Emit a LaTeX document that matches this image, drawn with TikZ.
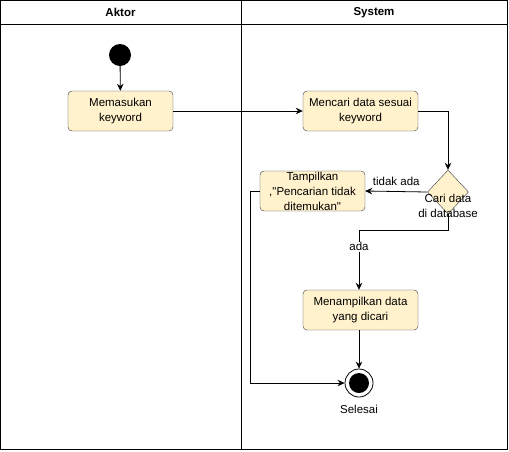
\documentclass[tikz,border=0pt]{standalone}
\usepackage{fontspec}
\setmainfont{Liberation Sans}
\usetikzlibrary{shapes.geometric, arrows.meta}
\definecolor{notefill}{HTML}{FFF2CC}
\definecolor{noteline}{HTML}{36393D}
\begin{document}
\begin{tikzpicture}[x=1pt, y=-1pt,
    lbl/.style={font=\fontsize{11.5}{15}\selectfont, align=center, inner sep=0pt},
    actbox/.style={draw=noteline, fill=notefill, rounded corners=4pt, minimum width=105pt,
        minimum height=40pt, inner sep=0pt, font=\fontsize{11.5}{15}\selectfont, align=center},
    flow/.style={draw=black, -{Stealth[length=7pt, width=6.5pt]}, line width=0.8pt}]
            \useasboundingbox (0,0) rectangle (509,451);
            % lanes
            \draw[line width=0.8pt] (0.5,0.5) rectangle (507.5,449.5);
            \draw[line width=0.8pt] (0.5,24) -- (507.5,24);
            \draw[line width=0.8pt] (241,0.5) -- (241,449.5);
            \node[lbl, font=\fontsize{11.5}{15}\selectfont\bfseries] (aktor) at (120.5,12.5) {Aktor};
            \node[lbl, font=\fontsize{11.5}{15}\selectfont\bfseries] (system) at (374,12.5) {System};
            % nodes
            \node[circle, fill=black, minimum size=22pt, inner sep=0pt] (start) at (120,55) {};
            \node[actbox] (masuk) at (120.5,111) {Memasukan\\keyword};
            \node[actbox, minimum width=115pt] (cari) at (360.5,111) {Mencari data sesuai\\keyword};
            \node[diamond, draw=noteline, fill=notefill, minimum width=41pt, minimum height=44pt, inner sep=0pt] (cek) at (448,192) {};
            \node[lbl] (cektxt) at (448,206) {Cari data\\di database};
            \node[actbox] (tampil) at (312.5,191) {Tampilkan\\,\textquotedbl Pencarian tidak\\ditemukan\textquotedbl};
            \node[actbox, minimum width=115pt] (hasil) at (360.5,310) {Menampilkan data\\yang dicari};
            \node[circle, draw=black, line width=0.8pt, minimum size=28pt, inner sep=0pt] (selesai) at (359,383) {};
            \node[circle, fill=black, minimum size=20pt, inner sep=0pt] at (selesai) {};
            \node[lbl] (selesaitxt) at (359,409) {Selesai};
            % connectors
            \draw[flow] (start) -- (masuk);
            \draw[flow] (masuk) -- (cari);
            \draw[flow] (cari.east) -| (cek.north);
            \draw[flow] (cek.west) -- node[lbl, above=5pt] (tidak) {tidak ada} (tampil.east);
            \draw[flow] (cek.south) -- (448,230) -| node[lbl, pos=0.64, fill=white, inner sep=1pt] (ada) {ada} (hasil.north -| 359,0);
            \draw[flow] (hasil.south -| 359,0) -- (selesai.north);
            \draw[flow] (tampil.west) -- (250,191) |- (selesai.west);
        \end{tikzpicture}
\end{document}
